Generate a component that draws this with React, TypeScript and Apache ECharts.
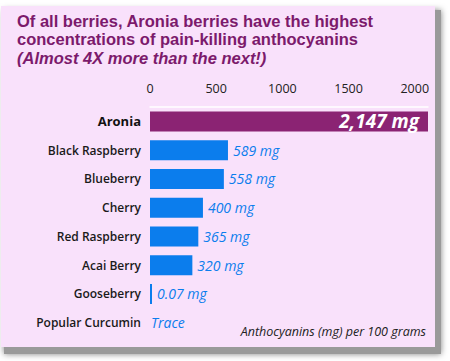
import React, { useEffect, useRef } from "react";
import * as echarts from "echarts";

const categories = [
  "Aronia",
  "Black Raspberry",
  "Blueberry",
  "Cherry",
  "Red Raspberry",
  "Acai Berry",
  "Gooseberry",
  "Popular Curcumin",
];
const values = [2147, 589, 558, 400, 365, 320, 0.07, 0];
const valueNotes = ["", "", "", "", "", "", "", "Trace"];
const tickValues = [0, 500, 1000, 1500, 2000];
const titleLines = [
  "Of all berries, Aronia berries have the highest",
  "concentrations of pain-killing anthocyanins",
];
const subtitle = "(Almost 4X more than the next!)";
const footnote = "Anthocyanins (mg) per 100 grams";

const PURPLE = "#8b2373";
const BLUE = "#0b7ded";
const TITLE = "#7c1a6c";
const FONT = "'Open Sans', 'Noto Sans', sans-serif";
const TFONT = "'Liberation Sans', Arial, sans-serif";

export default function App() {
  const ref = useRef<HTMLDivElement>(null);
  useEffect(() => {
    document.body.style.margin = "0";
    const chart = echarts.init(ref.current!, null, { renderer: "svg" });
    const data = values.map((v, i) => {
      if (i === 0) {
        return {
          value: v,
          itemStyle: { color: PURPLE },
          label: {
            position: "insideRight",
            distance: 9,
            color: "#fff",
            fontSize: 19,
            fontWeight: "bold",
            fontStyle: "italic",
          },
        };
      }
      if (valueNotes[i]) {
        return {
          value: v,
          itemStyle: { color: "rgba(0,0,0,0)" },
          label: { offset: [-6, 0] },
        };
      }
      return { value: v };
    });
    chart.setOption({
      animation: false,
      backgroundColor: "#ffffff",
      graphic: [
        {
          type: "rect",
          shape: { x: 4, y: 10, width: 437, height: 344 },
          style: { fill: "#9a9a9a", shadowBlur: 6, shadowColor: "rgba(0,0,0,0.5)" },
          silent: true,
          z: -10,
        },
        {
          type: "rect",
          shape: { x: 1, y: 6, width: 434, height: 341 },
          style: { fill: "#f9e1fb" },
          silent: true,
          z: -9,
        },
        {
          type: "text",
          left: 17,
          top: 12,
          style: {
            text: titleLines[0],
            font: `bold 16.5px ${TFONT}`,
            fill: TITLE,
            lineHeight: 16,
          },
        },
        {
          type: "text",
          left: 17,
          top: 30.5,
          style: {
            text: titleLines[1],
            font: `bold 16.5px ${TFONT}`,
            fill: TITLE,
            lineHeight: 16,
          },
        },
        {
          type: "text",
          left: 17,
          top: 49,
          style: {
            text: subtitle,
            font: `italic bold 16.5px ${TFONT}`,
            fill: TITLE,
            lineHeight: 16,
          },
        },
        {
          type: "text",
          right: 24,
          top: 325,
          style: {
            text: footnote,
            font: `italic 12.5px ${FONT}`,
            fill: "#222",
          },
        },
      ],
      grid: { left: 150, right: 22, top: 107, bottom: 24, containLabel: false },
      xAxis: {
        type: "value",
        position: "top",
        min: 0,
        max: 2100,
        interval: 500,
        axisLine: { show: true, lineStyle: { color: "#ffffff", width: 1.5 } },
        axisTick: { show: false },
        splitLine: { show: false },
        axisLabel: {
          showMaxLabel: false,
          margin: 12,
          color: "#222",
          fontSize: 12.5,
          fontFamily: FONT,
          formatter: (v: number) => (tickValues.includes(v) ? String(v) : ""),
        },
      },
      yAxis: {
        type: "category",
        data: categories,
        inverse: true,
        axisLine: { show: false },
        axisTick: { show: false },
        axisLabel: {
          margin: 9,
          color: "#1a1a1a",
          fontSize: 12,
          fontWeight: 600,
          fontFamily: FONT,
          formatter: (v: string) => (v === "Aronia" ? `{b|${v}}` : v),
          rich: {
            b: { fontWeight: "bold", fontSize: 13, color: "#111", fontFamily: FONT },
          },
        },
      },
      series: [
        {
          type: "bar",
          data,
          barWidth: 20,
          barMinHeight: 2,
          itemStyle: { color: BLUE },
          label: {
            show: true,
            position: "right",
            distance: 5,
            color: BLUE,
            fontSize: 14,
            fontStyle: "italic",
            fontFamily: FONT,
            formatter: (p: any) => {
              const note = valueNotes[p.dataIndex];
              if (note) return note;
              return `${Number(p.value).toLocaleString("en-US")} mg`;
            },
          },
        },
      ],
    });
    return () => chart.dispose();
  }, []);
  return <div ref={ref} style={{ width: 450, height: 361 }} />;
}
